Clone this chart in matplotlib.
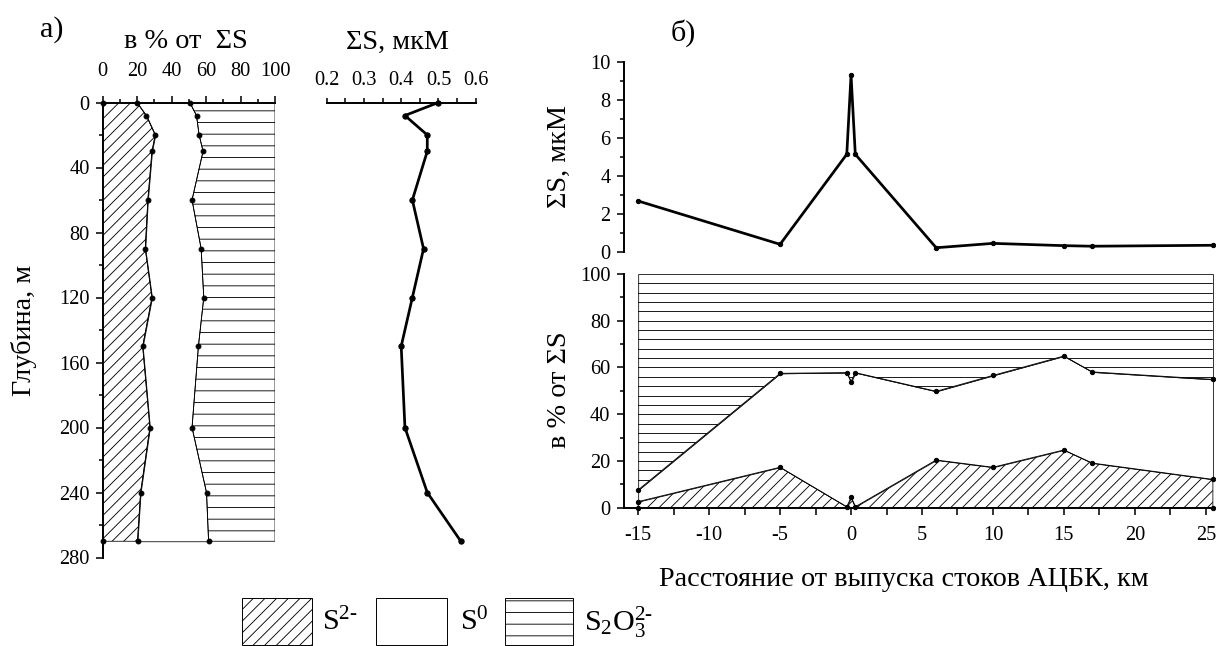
import numpy as np
import matplotlib
matplotlib.use("Agg")
import matplotlib.pyplot as plt
from matplotlib.patches import Rectangle
from matplotlib.ticker import MultipleLocator

# ---------------------------------------------------------
# Global config
# ---------------------------------------------------------
W, H, DPI = 1216, 646, 70
plt.rcParams["font.family"] = ["Liberation Serif", "DejaVu Serif"]
plt.rcParams["mathtext.fontset"] = "custom"
plt.rcParams["mathtext.rm"] = "Liberation Serif"
plt.rcParams["mathtext.it"] = "Liberation Serif:italic"
plt.rcParams["axes.unicode_minus"] = False
plt.rcParams["hatch.linewidth"] = 0.9
plt.rcParams["axes.linewidth"] = 2.0

TICK_FS = 21
LABEL_FS = 29

# ---------------------------------------------------------
# Data: (a) vertical profile
# ---------------------------------------------------------
depth = [0, 8, 20, 30, 60, 90, 120, 150, 200, 240, 270]           # m
s2_pct = [20, 25.4, 30.6, 28.7, 26.3, 24.8, 28.7, 23.3, 27.5, 22.1, 20.3]
s2s0_pct = [50.6, 54.5, 56, 58.3, 51.9, 57.2, 58.7, 55.6, 51.9, 60.3, 61.5]
sum_s_a = [0.50, 0.41, 0.47, 0.47, 0.43, 0.46, 0.43, 0.40, 0.41, 0.47, 0.56]

# ---------------------------------------------------------
# Data: (b) distance from outlet
# ---------------------------------------------------------
dist = [-15, -5, -0.3, 0, 0.3, 6, 10, 15, 17, 25.5]              # km
sum_s_b = [2.7, 0.42, 5.16, 9.33, 5.16, 0.24, 0.47, 0.35, 0.32, 0.37]
s2_b = [2.6, 17.3, 0.4, 4.4, 0.4, 20.4, 17.3, 24.7, 19.1, 12.1]
s2s0_b = [7.6, 57.5, 57.8, 53.9, 57.8, 49.8, 56.6, 64.9, 58.1, 54.9]


def px_rect(x0, y0, x1, y1):
    """pixel box (top-left origin) -> figure fraction rect"""
    return [x0 / W, 1 - y1 / H, (x1 - x0) / W, (y1 - y0) / H]


def style_ticks(ax, which_axis, major_len=7, minor_len=4.5, pad=5):
    ax.tick_params(axis=which_axis, which="major", direction="out",
                   length=major_len, width=1.6, labelsize=TICK_FS, pad=pad)
    ax.tick_params(axis=which_axis, which="minor", direction="out",
                   length=minor_len, width=1.6)


fig = plt.figure(figsize=(W / DPI, H / DPI), dpi=DPI)

# ---------------------------------------------------------
# Panel a — composition (%)
# ---------------------------------------------------------
ax1 = fig.add_axes(px_rect(102.5, 102.5, 275, 557.5))
ax1.set_xlim(0, 100)
ax1.set_ylim(280, 0)
for side in ("right", "bottom"):
    ax1.spines[side].set_visible(False)
ax1.xaxis.tick_top()
ax1.xaxis.set_major_locator(MultipleLocator(20))
ax1.xaxis.set_minor_locator(MultipleLocator(10))
ax1.yaxis.set_major_locator(MultipleLocator(40))
ax1.yaxis.set_minor_locator(MultipleLocator(20))
style_ticks(ax1, "x", pad=15)
style_ticks(ax1, "y", pad=6)

ax1.fill_betweenx(depth, 0, s2_pct, facecolor="white", edgecolor="black",
                  hatch="//", linewidth=0.8, zorder=1)
ax1.fill_betweenx(depth, s2_pct, s2s0_pct, facecolor="white",
                  edgecolor="black", linewidth=0.8, zorder=1)
ax1.fill_betweenx(depth, s2s0_pct, 100, facecolor="white", edgecolor="black",
                  hatch="-", linewidth=0.8, zorder=1)
ax1.plot(s2_pct, depth, color="black", lw=0.9, marker="o", ms=5, clip_on=False)
ax1.plot(s2s0_pct, depth, color="black", lw=0.9, marker="o", ms=5, clip_on=False)
ax1.plot([0, 0], [depth[0], depth[-1]], "o", color="black", ms=5, clip_on=False)

# ---------------------------------------------------------
# Panel a — total S
# ---------------------------------------------------------
ax2 = fig.add_axes(px_rect(326.7, 102.5, 475.7, 557.5))
ax2.set_xlim(0.2, 0.6)
ax2.set_ylim(280, 0)
for side in ("right", "bottom", "left"):
    ax2.spines[side].set_visible(False)
ax2.patch.set_visible(False)
ax2.set_yticks([])
ax2.xaxis.tick_top()
ax2.xaxis.set_major_locator(MultipleLocator(0.1))
ax2.xaxis.set_minor_locator(MultipleLocator(0.05))
style_ticks(ax2, "x", major_len=5, minor_len=5, pad=8)
ax2.plot(sum_s_a, depth, color="black", lw=2.8, marker="o", ms=5.5, clip_on=False)

fig.text(186 / W, 1 - 42 / H, "в % от  ΣS", ha="center", va="center", fontsize=LABEL_FS)
fig.text(398 / W, 1 - 42 / H, "ΣS, мкМ", ha="center", va="center", fontsize=LABEL_FS)
fig.text(52 / W, 1 - 30 / H, "а)", ha="center", va="center", fontsize=31)
fig.text(24 / W, 1 - 330 / H, "Глубина, м", ha="center", va="center",
         rotation=90, fontsize=LABEL_FS)

# ---------------------------------------------------------
# Panel b — total S along the transect
# ---------------------------------------------------------
XLIM_B = (-16, 25.6)
ax3 = fig.add_axes(px_rect(624, 62.3, 1214.3, 252.3))
ax3.set_xlim(*XLIM_B)
ax3.set_ylim(0, 10)
for side in ("right", "bottom", "top"):
    ax3.spines[side].set_visible(False)
ax3.set_xticks([])
ax3.yaxis.set_major_locator(MultipleLocator(2))
ax3.yaxis.set_minor_locator(MultipleLocator(1))
style_ticks(ax3, "y", pad=7)
ax3.plot(dist, sum_s_b, color="black", lw=2.8, marker="o", ms=4.5, clip_on=False)

# ---------------------------------------------------------
# Panel b — composition (%)
# ---------------------------------------------------------
ax4 = fig.add_axes(px_rect(624, 274, 1214.3, 507.7))
ax4.set_xlim(*XLIM_B)
ax4.set_ylim(0, 100)
for side in ("right", "top"):
    ax4.spines[side].set_visible(False)
ax4.xaxis.set_major_locator(MultipleLocator(5))
ax4.xaxis.set_minor_locator(MultipleLocator(2.5))
ax4.yaxis.set_major_locator(MultipleLocator(20))
ax4.yaxis.set_minor_locator(MultipleLocator(10))
style_ticks(ax4, "y", pad=7)
style_ticks(ax4, "x", major_len=7, minor_len=7, pad=12)

ax4.fill_between(dist, 0, s2_b, facecolor="white", edgecolor="black",
                 hatch="//", linewidth=0.8, zorder=1)
ax4.fill_between(dist, s2_b, s2s0_b, facecolor="white", edgecolor="black",
                 linewidth=0.8, zorder=1)
top_poly = ax4.fill_between(dist, s2s0_b, 100, facecolor="white",
                            edgecolor="black", linewidth=0.8, zorder=1)
# denser horizontal hatch for the thiosulfate band
hl = ax4.hlines(np.arange(4, 100, 4), XLIM_B[0], XLIM_B[1], color="black",
                lw=0.9, zorder=1.5)
hl.set_clip_path(top_poly.get_paths()[0], ax4.transData)

ax4.plot(dist, s2_b, color="black", lw=0.9, marker="o", ms=4.5, clip_on=False, zorder=3)
ax4.plot(dist, s2s0_b, color="black", lw=0.9, marker="o", ms=4.5, clip_on=False, zorder=3)
ax4.plot([dist[0], dist[-1]], [0, 0], "o", color="black", ms=4.5, clip_on=False, zorder=3)

fig.text(683 / W, 1 - 33 / H, "б)", ha="center", va="center", fontsize=31)
fig.text(559 / W, 1 - 157 / H, "ΣS, мкМ", ha="center", va="center",
         rotation=90, fontsize=LABEL_FS)
fig.text(559 / W, 1 - 390 / H, "в % от ΣS", ha="center", va="center",
         rotation=90, fontsize=LABEL_FS)
fig.text(904 / W, 1 - 579 / H, "Расстояние от выпуска стоков АЦБК, км",
         ha="center", va="center", fontsize=LABEL_FS)

# ---------------------------------------------------------
# Legend (drawn as figure patches)
# ---------------------------------------------------------
legend_items = [
    ((241.7, 311.7), "//", r"S$^{2\text{-}}$", 322),
    ((376, 447.3), "", r"S$^{0}$", 460),
    ((505, 573.3), "-", r"S$_{2}$O$_{3}^{2\text{-}}$", 584),
]
for (x0, x1), hatch, label, tx in legend_items:
    r = Rectangle((x0 / W, 1 - 645 / H), (x1 - x0) / W, 47.3 / H,
                  transform=fig.transFigure, facecolor="white",
                  edgecolor="black", hatch=hatch, linewidth=1.0)
    fig.add_artist(r)
    fig.text(tx / W, 1 - 622 / H, label, ha="left", va="center", fontsize=31)

fig.savefig("out.png", dpi=DPI)
